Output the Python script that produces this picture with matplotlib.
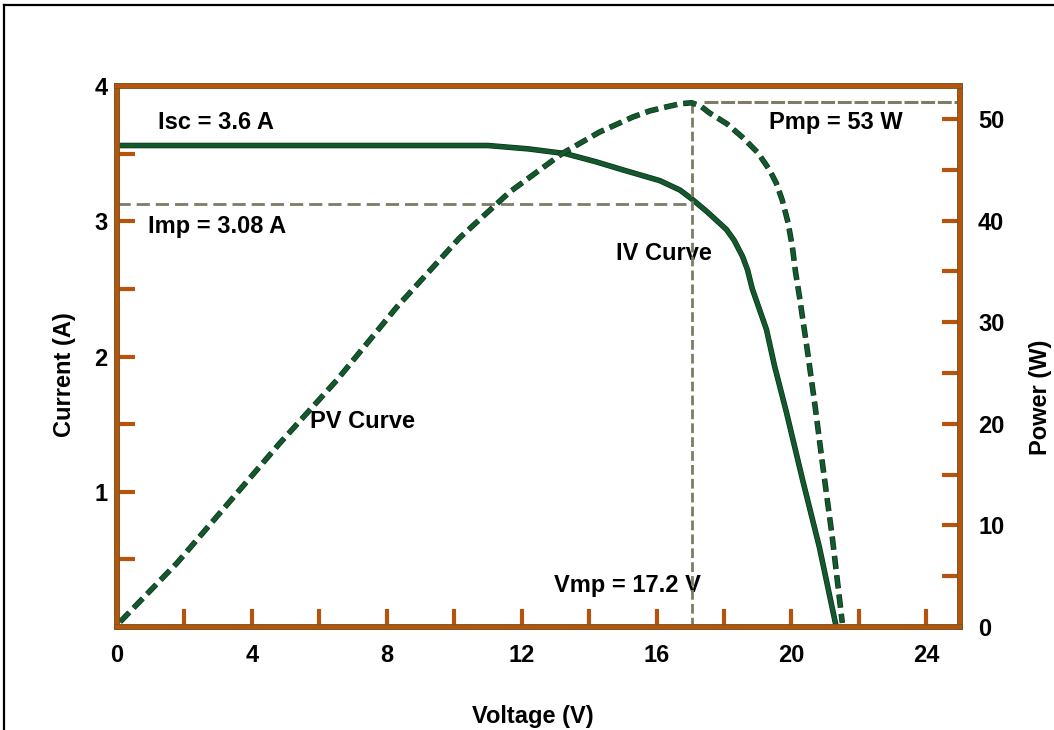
import matplotlib
matplotlib.use("Agg")
import matplotlib.pyplot as plt
import matplotlib.patheffects as pe
from matplotlib.lines import Line2D

plt.rcParams['font.family'] = ['Liberation Sans', 'DejaVu Sans']
plt.rcParams['lines.scale_dashes'] = False

# IV curve (voltage V, current A)
iv_v = [0, 5.0, 11.0, 12.2, 13.3, 14.2, 15.0, 16.1, 16.7, 17.07, 17.5,
        18.07, 18.3, 18.55, 18.7, 18.84, 19.05, 19.26, 19.5, 19.85, 20.33,
        20.83, 21.33]
iv_i = [3.56, 3.56, 3.56, 3.535, 3.50, 3.44, 3.38, 3.30, 3.23, 3.16, 3.07,
        2.94, 2.86, 2.74, 2.64, 2.50, 2.35, 2.20, 1.93, 1.59, 1.09,
        0.59, 0.0]

# PV curve (voltage V, power W)
pv_v = [0.09, 1.78, 4.83, 6.52, 8.3, 10.16, 11.64, 12.5, 13.2, 14.3, 15.3,
        15.8, 16.3, 16.7, 17.04, 17.3, 17.57, 18.1, 18.55, 19.0, 19.35,
        19.55, 19.73, 19.9, 20.03, 20.12, 20.24, 20.47, 20.7, 20.92, 21.21,
        21.51]
pv_p = [0.5, 6.3, 18.1, 24.3, 31.5, 38.3, 42.8, 44.9, 46.6, 48.7, 50.2,
        50.8, 51.2, 51.5, 51.6, 51.3, 50.6, 49.5, 48.2, 46.7, 45.0,
        43.7, 42.0, 39.8, 37.4, 35.0, 32.5, 27.3, 21.8, 16.1, 8.9,
        0.4]

# max power point markers
vmp = 17.05
imp = 3.13
pmp = 51.7

x_major = [0, 4, 8, 12, 16, 20, 24]
x_minor = [2, 6, 10, 14, 18, 22]
i_major = [1, 2, 3, 4]
i_minor = [0.5, 1.5, 2.5, 3.5]
p_major = [0, 10, 20, 30, 40, 50]
p_minor = [5, 15, 25, 35, 45]

frame = '#b5530f'
green = '#14592d'
grey = '#7f7b66'

fig = plt.figure(figsize=(10.54, 7.30), dpi=100)
ax = fig.add_axes([117/1054, 103/730, 843/1054, 541/730])
ax2 = ax.twinx()

ax.set_xlim(0, 25)
ax.set_ylim(0, 4)
ax2.set_ylim(0, 53.25)

# reference lines
ax.plot([0, vmp], [imp, imp], color=grey, lw=2, linestyle=(0, (9.5, 4.3)))
ax2.plot([vmp, vmp], [0, pmp], color=grey, lw=2, linestyle=(0, (7, 3)))
ax2.plot([17.4, 25], [pmp, pmp], color=grey, lw=2.2, linestyle=(0, (10, 2)))

outline = [pe.Stroke(linewidth=4, foreground='#0a2e17'), pe.Normal()]
ax.plot(iv_v, iv_i, color=green, lw=3, solid_capstyle='butt',
        solid_joinstyle='round', path_effects=outline)
ax2.plot(pv_v, pv_p, color=green, lw=3, linestyle=(0, (9.5, 4.5)),
         dash_capstyle='butt', dash_joinstyle='round', path_effects=outline)

txt = dict(fontsize=17, fontweight='bold', color='black')
ax.text(1.21, 3.73, "Isc = 3.6 A", ha='left', va='center', **txt)
ax.text(0.92, 2.96, "Imp = 3.08 A", ha='left', va='center', **txt)
ax.text(19.35, 3.73, "Pmp = 53 W", ha='left', va='center', **txt)
ax.text(14.8, 2.76, "IV Curve", ha='left', va='center', **txt)
ax.text(5.72, 1.52, "PV Curve", ha='left', va='center', **txt)
ax.text(17.33, 0.31, "Vmp = 17.2 V", ha='right', va='center', **txt)

# ticks
ax.set_xticks(x_major)
ax.set_xticks(x_minor, minor=True)
ax.set_yticks(i_major)
ax.set_yticks(i_minor, minor=True)
ax2.set_yticks(p_major)
ax2.set_yticks(p_minor, minor=True)

for a in (ax, ax2):
    a.tick_params(which='both', direction='in', length=13, width=3,
                  color=frame, labelsize=17)
    for lab in a.get_xticklabels() + a.get_yticklabels():
        lab.set_fontweight('bold')
ax.tick_params(axis='x', which='both', top=False, pad=12)
ax.tick_params(axis='y', which='both', right=False, pad=7)
ax2.tick_params(axis='y', which='both', left=False, right=True, pad=13)

for a in (ax, ax2):
    for sp in a.spines.values():
        sp.set_color(frame)
        sp.set_linewidth(3)
        sp.set_path_effects([pe.Stroke(linewidth=4, foreground='#6d5a1c'), pe.Normal()])

fig.text(65/1054, 1 - 375/730, "Current (A)", rotation=90, ha='center', va='center', **txt)
fig.text(533/1054, 1 - 716/730, "Voltage (V)", ha='center', va='center', **txt)
fig.text(1040/1054, 1 - 397/730, "Power (W)", rotation=90, ha='center', va='center', **txt)

# outer border (left and top edges visible)
fig.add_artist(Line2D([4/1054, 4/1054], [0, 1 - 5/730], color='black', lw=1.6, transform=fig.transFigure))
fig.add_artist(Line2D([4/1054, 1], [1 - 5/730, 1 - 5/730], color='black', lw=1.6, transform=fig.transFigure))

fig.savefig("out.png", dpi=100)
